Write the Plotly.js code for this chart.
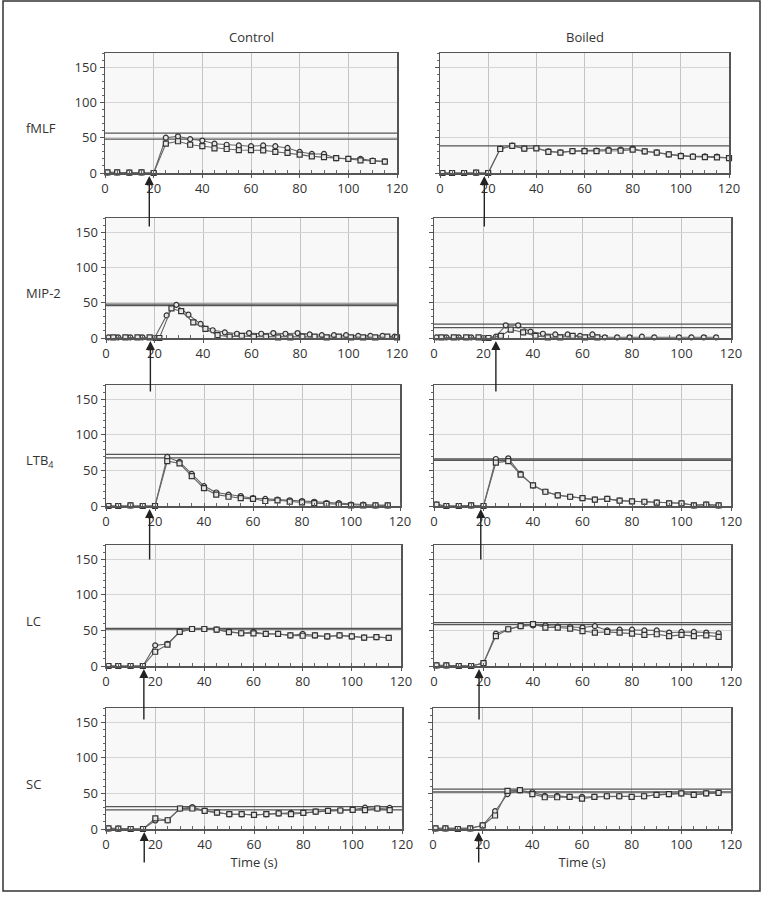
<!DOCTYPE html>
<html><head><meta charset="utf-8">
<script src="https://cdn.plot.ly/plotly-3.0.1.min.js"></script>
<style>html,body{margin:0;padding:0;background:#fff}#chart{width:764px;height:901px}</style>
</head><body><div id="chart"></div>
<script>
// ---------- DATA ----------
const rowLabels = ['fMLF', 'MIP-2', 'LTB<sub>4</sub>', 'LC', 'SC'];
const colLabels = ['Control', 'Boiled'];
const xTitle = 'Time (s)';
const xTickVals = [0, 20, 40, 60, 80, 100, 120];
const yTickVals = [0, 50, 100, 150];

const tC = [1,5,10,15,20,25,30,35,40,45,50,55,60,65,70,75,80,85,90,95,100,105,110,115];
const tB = [1,5,10,15,20,25,30,35,40,45,50,55,60,65,70,75,80,85,90,95,100,105,110,115,120];

// fMLF
const fmlfC_a = [1,1,0.5,1,0,50,52,48,46,41.5,40,39,38,39,38,35.5,30,27,27,21,20,20,17.5,16.5];
const fmlfC_b = [1,1,0.5,1,0,41.5,45,40,38,35,34,32.5,32.5,32,30,28.5,26,23.5,22.5,21,20,18,17,16];
const fmlfB_a = [0,0,0,0.5,0,34.5,38.7,34.5,35.4,30.7,29.3,31,31.6,31.6,33,33,34.5,30.7,29.3,26.4,24.5,23.6,23.6,23.1,21.2];
const fmlfB_b = [0,0,0,0.5,0,34,38.5,34.5,35,30,29,31,31,31,31.5,31.5,33,30.7,29,26.4,24,23,22.5,22,21.2];
// MIP-2 (two series sampled at offset times)
const mipC_ta = [1,5,10,15,20,25,29,34,39,44,49,54,59,64,69,74,79,84,89,94,99,104,109,114,119];
const mipC_a  = [1,1,1,1,0,32,47,33,20,11,8,6,7,6,7,6,7,5,4,4,4,3,3,3,2];
const mipC_tb = [3,8,13,18,22,27,31,36,41,46,51,56,61,66,71,76,81,86,91,96,101,106,111,116,120];
const mipC_b  = [1,1,1,1,0,42,38,22,13,4,2,3,2,2,1,1,2,2,1,2,1,1,1,2,1];
const mipB_ta = [1,5,10,15,20,25,29,34,39,44,49,54,59,64,69,74,79,84,89,99,104,109,114];
const mipB_a  = [1,1,1,1,0,2,18,18,9,6,5,5,3,5,1,1,1,2,1,1,1,1,1];
const mipB_tb = [3,8,13,18,22,27,31,36,41,46,51,56,61,66];
const mipB_b  = [1,1,1,1,0,3,12,8,3,1,1,3,1,1];
// LTB4
const ltbC_a = [0,0,1,0,0,69,62,45,28,19,16,14,11,10,9,8,7,6,4,4,2,2,1,1];
const ltbC_b = [0,0,1,0,0,63,60,42,25,16,13,11,10,7,8,6,5,4,3,2,1,1,1,1];
const ltbB_a = [2,0,0,1,0,66,67,45,29,20,15,13,11,9,10,7.5,6.6,6,4.7,3.8,3.8,1,2,1];
const ltbB_b = [2,0,0,1,0,61,63,44,29,20,15,13,11,9,10,7.5,6.6,6,4.7,3.8,3.8,1,2,1];
// LC
const lcC_a = [0,0,0,0,29,31,48,52,52,51,48.5,46,48,45,45,43,45,43,41.5,43,41.5,40,40.5,39.6];
const lcC_b = [0,0,0,0,20,30,48,52,52,51,47.6,46,45.8,45,45,43,42.5,43,41.5,43,41.5,40,40.5,39.6];
const lcB_a = [1,1,0,0,4,45.5,51.6,56,57,57,55.4,55,54,56,50,51,51,50,50,47,48,48,47,46];
const lcB_b = [1,1,0,0,4,42,51.6,56,58.7,54,54,52.6,49,47,48,47,45.5,43.7,44.6,42,43.7,42,43,41];
// SC
const scC_a = [1,0.5,0,0,12,12.3,28.8,30.7,25.5,23,20.8,20.8,19.8,20.8,22,22.6,22.6,24.5,25.5,26,27,30,28.8,29.7];
const scC_b = [1,0.5,0,0,15,12.3,28.8,28.8,25.5,23,20.8,20.8,19.8,20.8,22,20.8,22.6,24.5,25.5,26,27,26.4,28.8,26.4];
const scB_a = [1,1,0,1,5,25,49,54.5,51.6,46.5,46.5,45,45,45,46,46,45,46,48,49,50,48,50,50.7];
const scB_b = [1,1,0,1,5,19,53.5,54.5,49,44.6,44.6,45,42.7,45,46,46,45,46,48,49,50,48,50,50.7];

// threshold lines per panel (order: fMLF C, fMLF B, MIP C, MIP B, LTB C, LTB B, LC C, LC B, SC C, SC B)
const thresholds = [[56.5,48],[38.5],[48,46],[19.6,14.7],[72.5,67.5],[66,64],[53,52],[61,58],[31.4,27],[56,52]];
// stimulus arrow positions (s)
const arrowX = [18.2,18.4,18.3,25,17.8,18.9,15.4,18.2,15.5,18.4];

// ---------- PANEL DATA ----------
const panels = [
  [[tC,fmlfC_a],[tC,fmlfC_b]], [[tB,fmlfB_a],[tB,fmlfB_b]],
  [[mipC_ta,mipC_a],[mipC_tb,mipC_b]], [[mipB_ta,mipB_a],[mipB_tb,mipB_b]],
  [[tC,ltbC_a],[tC,ltbC_b]], [[tC,ltbB_a],[tC,ltbB_b]],
  [[tC,lcC_a],[tC,lcC_b]], [[tC,lcB_a],[tC,lcB_b]],
  [[tC,scC_a],[tC,scC_b]], [[tC,scB_a],[tC,scB_b]]
];

// ---------- GEOMETRY (pixels) ----------
const W = 764, H = 901;
const rowsPx = [[53,173],[218,338],[385,506],[545,666],[708,829]];
const colPx = [
  [[105,397],[440,729]],
  [[106,397],[434,731]],
  [[106,400],[434,731]],
  [[106,401],[434,731]],
  [[106,402],[433,731]]
];

const traces = [];
const layout = {
  width: W, height: H,
  margin: {l:0, r:0, t:0, b:0, pad:0},
  paper_bgcolor: '#ffffff',
  plot_bgcolor: '#f8f8f8',
  showlegend: false,
  font: {family: 'Open Sans, Noto Sans, sans-serif', size: 13, color: '#333'},
  annotations: [], shapes: []
};

const markerSyms = ['circle', 'square'];
panels.forEach((series, i) => {
  const r = Math.floor(i/2), c = i % 2;
  const ax = i + 1;
  const xn = 'x' + (ax === 1 ? '' : ax), yn = 'y' + (ax === 1 ? '' : ax);
  const xk = 'xaxis' + (ax === 1 ? '' : ax), yk = 'yaxis' + (ax === 1 ? '' : ax);
  const [x0, x1] = colPx[r][c];
  const [yt, yb] = rowsPx[r];
  layout[xk] = {
    domain: [x0/W, x1/W], anchor: yn, range: [0,120],
    tickvals: xTickVals, showgrid: true, gridcolor: '#c4c4c4', gridwidth: 1,
    showline: true, linecolor: '#555', linewidth: 1.5, mirror: true,
    ticks: 'outside', ticklen: 3, tickcolor: '#555',
    minor: {dtick: 5, tick0: 0, ticks: 'inside', ticklen: 3, tickcolor: '#666', showgrid: false},
    zeroline: false, fixedrange: true, automargin: false,
    tickfont: {size: 13, color: '#333'}
  };
  if (r === 4) layout[xk].title = {text: xTitle, font: {size: 13, color: '#333'}, standoff: 6};
  layout[yk] = {
    domain: [1 - yb/H, 1 - yt/H], anchor: xn, range: [0,170],
    tickvals: yTickVals, showticklabels: c === 0, showgrid: true, gridcolor: '#d4d4d4', gridwidth: 1,
    showline: true, linecolor: '#555', linewidth: 1.5, mirror: true,
    ticks: 'outside', ticklen: 4, tickcolor: '#555',
    minor: {dtick: 10, tick0: 0, ticks: 'outside', ticklen: 2, tickcolor: '#666', showgrid: false},
    zeroline: false, fixedrange: true, automargin: false,
    tickfont: {size: 13, color: '#333'}
  };
  // thresholds
  thresholds[i].forEach(v => {
    traces.push({x: [0,120], y: [v,v], xaxis: xn, yaxis: yn, mode: 'lines',
      line: {color: '#555', width: 1.3}, hoverinfo: 'skip', cliponaxis: true});
  });
  // series
  series.forEach((s, k) => {
    traces.push({x: s[0], y: s[1], xaxis: xn, yaxis: yn, mode: 'lines+markers',
      cliponaxis: false,
      line: {color: '#666', width: 1.1},
      marker: {symbol: markerSyms[k], size: 5, color: '#e6e6e6', line: {color: '#333', width: 1.2}}});
  });
  // stimulus arrow
  const tail = r === 4 ? 32 : 52;
  layout.annotations.push({
    xref: xn, yref: 'paper', x: arrowX[i], y: 1 - (yb + 3)/H,
    text: '', showarrow: true, ax: 0, ay: tail, axref: 'pixel', ayref: 'pixel',
    arrowhead: 2, arrowsize: 1.3, arrowwidth: 1.4, arrowcolor: '#222', standoff: 0
  });
  // row label
  if (c === 0) {
    layout.annotations.push({xref: 'paper', yref: 'paper', x: 24/W, y: 1 - (yb - 45)/H,
      xanchor: 'left', yanchor: 'middle', text: rowLabels[r], showarrow: false,
      font: {size: 13, color: '#333'}});
  }
});
// column titles
layout.annotations.push({xref:'paper', yref:'paper', x: 251/W, y: 1 - 37/H, xanchor:'center', yanchor:'middle',
  text: colLabels[0], showarrow:false, font:{size:13,color:'#333'}});
layout.annotations.push({xref:'paper', yref:'paper', x: 585/W, y: 1 - 37/H, xanchor:'center', yanchor:'middle',
  text: colLabels[1], showarrow:false, font:{size:13,color:'#333'}});
// outer frame
layout.shapes.push({type:'rect', xref:'paper', yref:'paper', x0: 3/W, x1: 760/W, y0: 1 - 891/H, y1: 1 - 1/H,
  line:{color:'#333', width:1.5}, fillcolor:'rgba(0,0,0,0)', layer:'below'});

Plotly.newPlot('chart', traces, layout, {staticPlot: true, displayModeBar: false});
</script></body></html>
